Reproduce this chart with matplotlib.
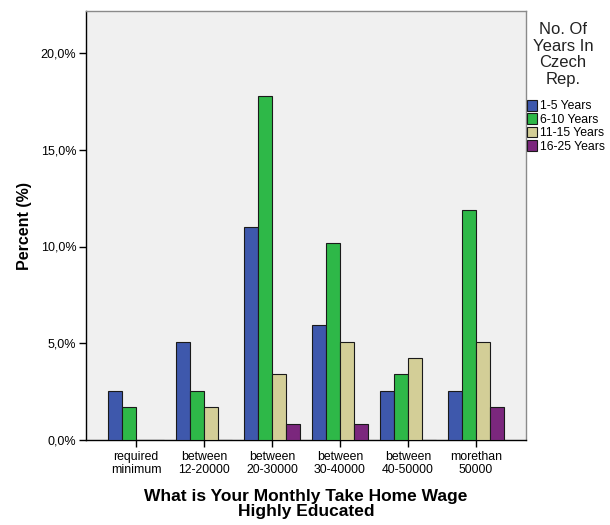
import numpy as np
import matplotlib
matplotlib.use("Agg")
import matplotlib.pyplot as plt
from matplotlib.patches import Patch

plt.rcParams['font.family'] = ['Liberation Sans', 'DejaVu Sans']

# data (percent of 118 respondents)
categories = ['required\nminimum', 'between\n12-20000', 'between\n20-30000',
              'between\n30-40000', 'between\n40-50000', 'morethan\n50000']
series_names = ['1-5 Years', '6-10 Years', '11-15 Years', '16-25 Years']
n_total = 118
yrs_1_5 = [3, 6, 13, 7, 3, 3]
yrs_6_10 = [2, 3, 21, 12, 4, 14]
yrs_11_15 = [0, 2, 4, 6, 5, 6]
yrs_16_25 = [0, 0, 1, 1, 0, 2]
colors = ['#3E58AC', '#2EB848', '#D3CE97', '#7B277D']

fig = plt.figure(figsize=(6.1, 5.25), dpi=100)
ax = fig.add_axes([86/610, 1-440/525, 440/610, 429/525])
ax.set_facecolor('#F0F0F0')

x = np.arange(len(categories))
w = 14/68
series = [yrs_1_5, yrs_6_10, yrs_11_15, yrs_16_25]
for i, s in enumerate(series):
    vals = np.array(s) / n_total * 100
    ax.bar(x + (i - 1.5) * w, vals, width=w, color=colors[i],
           edgecolor='#1a1a1a', linewidth=0.8, zorder=3)

ax.set_xlim(-50/68, 5 + 50/68)
ax.set_ylim(0, 20 + 42/19.35)
ax.set_yticks([0, 5, 10, 15, 20])
ax.set_yticklabels(['0,0%', '5,0%', '10,0%', '15,0%', '20,0%'])
ax.set_xticks(x)
ax.set_xticklabels(categories, linespacing=1.1)
ax.tick_params(axis='y', labelsize=9, length=5, width=1, color='black', pad=2)
ax.tick_params(axis='x', labelsize=8.8, length=5, width=1, color='black', pad=3)

for sp in ['left', 'bottom']:
    ax.spines[sp].set_color('black')
    ax.spines[sp].set_linewidth(1)
for sp in ['top', 'right']:
    ax.spines[sp].set_color('#8a8a8a')
    ax.spines[sp].set_linewidth(1)

ax.set_ylabel('Percent (%)', fontsize=11.5, fontweight='bold', labelpad=6)
ax.set_xlabel('What is Your Monthly Take Home Wage\nHighly Educated',
              fontsize=12.5, fontweight='bold', labelpad=9, linespacing=1.0)

fig.text(563/610, 1-22/525, 'No. Of\nYears In\nCzech\nRep.', ha='center', va='top',
         fontsize=12, linespacing=1.13, color='#222222')
handles = [Patch(facecolor=c, edgecolor='#1a1a1a', linewidth=0.8) for c in colors]
fig.legend(handles, series_names, loc='upper left',
           bbox_to_anchor=(527/610, 1-100/525), frameon=False, fontsize=8.8,
           handlelength=0.85, handleheight=0.95, handletextpad=0.25,
           labelspacing=0.08, borderaxespad=0, borderpad=0)

fig.savefig('out.png', dpi=100)
